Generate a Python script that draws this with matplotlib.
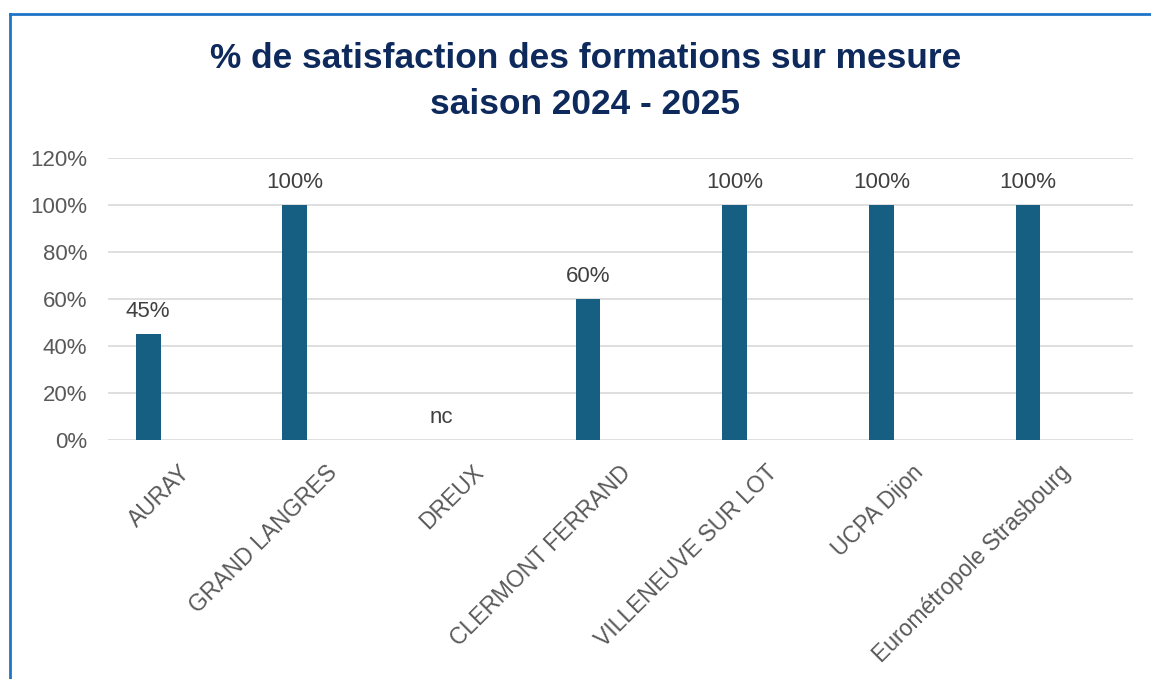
import matplotlib.pyplot as plt
from matplotlib.ticker import FuncFormatter
from matplotlib.lines import Line2D
from matplotlib.transforms import ScaledTranslation

categories = ['AURAY', 'GRAND LANGRES', 'DREUX', 'CLERMONT FERRAND',
              'VILLENEUVE SUR LOT', 'UCPA Dijon', 'Eurométropole Strasbourg']
values = [0.45, 1.00, 0.0, 0.60, 1.00, 1.00, 1.00]
labels = ['45%', '100%', 'nc', '60%', '100%', '100%', '100%']
yticks = [0, 0.2, 0.4, 0.6, 0.8, 1.0, 1.2]

plt.rcParams['font.family'] = ['Liberation Sans', 'DejaVu Sans']

fig = plt.figure(figsize=(11.51, 6.79), dpi=100)
ax = fig.add_axes([108 / 1151, 1 - 440 / 679, 1025 / 1151, 282 / 679])

x = list(range(len(categories)))
ax.bar(x, values, width=0.17, color='#175F82', zorder=3)

for xi, v, lab in zip(x, values, labels):
    ax.annotate(lab, (xi, v), xytext=(0, 8.5), textcoords='offset points',
                ha='center', va='bottom', fontsize=16, color='#404040')

ax.set_xlim(-0.273, 6.716)
ax.set_ylim(0, 1.2)
ax.set_yticks(yticks)
ax.yaxis.set_major_formatter(FuncFormatter(lambda v, _: f"{v * 100:.0f}%"))
ax.grid(axis='y', color='#d9d9d9', linewidth=1.2, zorder=0)
for s in ax.spines.values():
    s.set_visible(False)
ax.tick_params(axis='y', length=0, labelsize=16, colors='#595959', pad=15)

# category labels, rotated 45 degrees, shifted like the original
ax.set_xticks(x)
ax.set_xticklabels([])
ax.tick_params(axis='x', length=0)
shift = ScaledTranslation(0.39, -0.29, fig.dpi_scale_trans)
for xi, cat in zip(x, categories):
    ax.text(xi, 0, cat, transform=ax.get_xaxis_transform() + shift,
            rotation=45, rotation_mode='anchor', ha='right', va='center',
            fontsize=16.5, color='#595959')

title_color = '#0E2A5C'
fig.text(0.5085, 1 - 58 / 679, '% de satisfaction des formations sur mesure',
         ha='center', va='center', fontsize=25.4, fontweight='bold', color=title_color)
fig.text(0.5085, 1 - 105 / 679, 'saison 2024 - 2025',
         ha='center', va='center', fontsize=25.4, fontweight='bold', color=title_color)

# frame border (top and left visible)
fig.add_artist(Line2D([10 / 1151, 1], [1 - 14 / 679, 1 - 14 / 679],
                      transform=fig.transFigure, color='#1F74C8', linewidth=2))
fig.add_artist(Line2D([10 / 1151, 10 / 1151], [0, 1 - 14 / 679],
                      transform=fig.transFigure, color='#1F74C8', linewidth=2))

fig.savefig('out.png', dpi=100)
